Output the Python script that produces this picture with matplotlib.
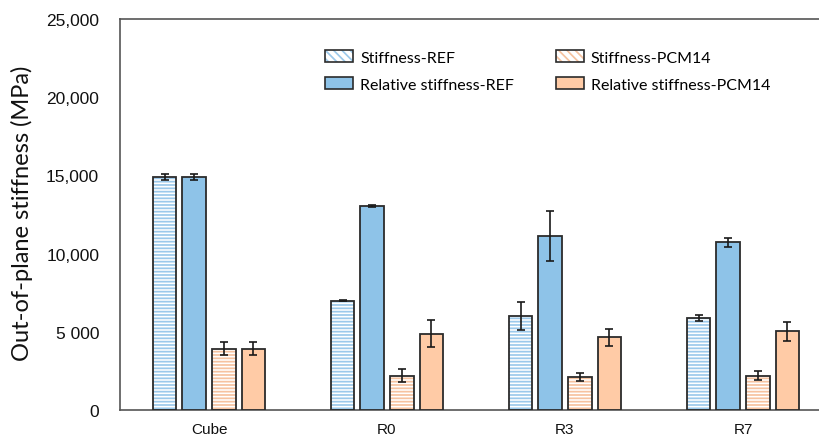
import matplotlib
matplotlib.use("Agg")
import matplotlib.pyplot as plt
from matplotlib.patches import Patch
import numpy as np

categories = ["Cube", "R0", "R3", "R7"]

stiff_ref = [14900, 6980, 6000, 5880]
stiff_ref_err = [220, 40, 880, 200]
rel_ref = [14880, 13040, 11150, 10720]
rel_ref_err = [200, 40, 1600, 300]
stiff_pcm = [3930, 2200, 2100, 2200]
stiff_pcm_err = [420, 400, 250, 300]
rel_pcm = [3930, 4880, 4650, 5020]
rel_pcm_err = [420, 870, 560, 600]

ytick_vals = [0, 5000, 10000, 15000, 20000, 25000]
ytick_labels = ["0", "5 000", "10,000", "15,000", "20,000", "25,000"]

blue_fill = "#8EC3E8"
blue_hatch = "#9CC9EB"
orange_fill = "#FFCBA6"
orange_hatch = "#F6C3A0"
edge = "#2B2B2B"

plt.rcParams["hatch.linewidth"] = 1.25

fig = plt.figure(figsize=(8.19, 4.39), dpi=100)
ax = fig.add_axes([120 / 819, 28 / 439, 712 / 819, 391 / 439])

x = np.arange(len(categories))
w = 0.132
pitch = 0.166
offsets = [-1.5 * pitch, -0.5 * pitch, 0.5 * pitch, 1.5 * pitch]

series = [
    (stiff_ref, stiff_ref_err, "white", blue_hatch, "-----"),
    (rel_ref, rel_ref_err, blue_fill, None, None),
    (stiff_pcm, stiff_pcm_err, "white", orange_hatch, "-----"),
    (rel_pcm, rel_pcm_err, orange_fill, None, None),
]

for (vals, errs, fill, hcol, hatch), off in zip(series, offsets):
    pos = x + off
    if hatch:
        ax.bar(pos, vals, w, color=fill, edgecolor=hcol, hatch=hatch,
               linewidth=0, zorder=2)
        ax.bar(pos, vals, w, fill=False, edgecolor=edge, linewidth=1.3,
               zorder=3)
    else:
        ax.bar(pos, vals, w, color=fill, edgecolor=edge, linewidth=1.3,
               zorder=3)
    ax.errorbar(pos, vals, yerr=errs, fmt="none", ecolor="#1a1a1a",
                elinewidth=1.2, capsize=3, capthick=1.2, zorder=4)

ax.set_xlim(-0.5, 3.5)
ax.set_ylim(0, 25000)
ax.set_yticks(ytick_vals)
ax.set_yticklabels(ytick_labels)
ax.set_xticks(x)
ax.set_xticklabels(categories)
ax.tick_params(axis="both", length=0, colors="#111111")
ax.tick_params(axis="y", pad=15, labelsize=12.5)
ax.tick_params(axis="x", pad=9, labelsize=11)
for lab in ax.get_xticklabels() + ax.get_yticklabels():
    lab.set_fontfamily("Liberation Sans")

for s in ["left", "bottom", "top"]:
    ax.spines[s].set_color("#555555")
    ax.spines[s].set_linewidth(1.2)
ax.spines["right"].set_visible(False)

ax.set_ylabel("Out-of-plane stiffness (MPa)", fontsize=17, family="Lato",
              color="#111111")
ax.yaxis.set_label_coords(-0.122, 0.505)

handles = [
    Patch(facecolor="white", edgecolor=blue_hatch, hatch="\\\\\\\\",
          linewidth=0),
    Patch(facecolor=blue_fill, edgecolor=edge, linewidth=1.2),
    Patch(facecolor="white", edgecolor=orange_hatch, hatch="\\\\\\\\",
          linewidth=0),
    Patch(facecolor=orange_fill, edgecolor=edge, linewidth=1.2),
]
labels = ["Stiffness-REF", "Relative stiffness-REF",
          "Stiffness-PCM14", "Relative stiffness-PCM14"]
leg = ax.legend(handles, labels, ncol=2, frameon=False,
                loc="upper left", bbox_to_anchor=(0.288, 0.92),
                borderpad=0, borderaxespad=0,
                prop={"family": "Lato", "size": 11.5},
                handlelength=1.75, handleheight=0.8, columnspacing=2.6,
                labelspacing=0.75, handletextpad=0.45)
fig.canvas.draw()
# outline the hatched legend swatches with the dark bar edge
inv = fig.transFigure.inverted()
for p, hatched in zip(leg.get_patches(), [True, False, True, False]):
    if hatched:
        bb = p.get_window_extent()
        (x0, y0), (x1, y1) = inv.transform([[bb.x0, bb.y0], [bb.x1, bb.y1]])
        fig.add_artist(plt.Rectangle((x0, y0), x1 - x0, y1 - y0,
                                     fill=False, edgecolor=edge,
                                     linewidth=1.2,
                                     transform=fig.transFigure))

fig.savefig("out.png", dpi=100)
